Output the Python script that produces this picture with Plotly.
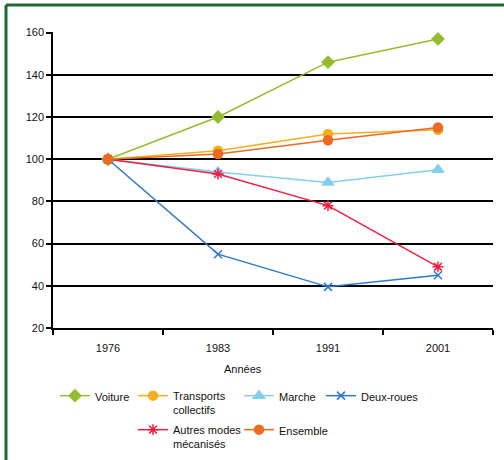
import plotly.graph_objects as go

# Index 100 = 1976
annees = ["1976", "1983", "1991", "2001"]
voiture = [100, 120, 146, 157]
transports_collectifs = [100, 104, 112, 114]
marche = [100, 94, 89, 95]
deux_roues = [100, 55, 39.5, 45]
autres_modes = [100, 93, 78, 49]
ensemble = [100, 102.5, 109, 115]

FONT = "Liberation Sans, Arial, sans-serif"
W, H = 504, 460

# name, values, colour, symbol, size, legend slot (left text edge px, text top px)
series = [
    ("Voiture", voiture, "#93BD2E", "diamond", 9, (97, 382)),
    ("Transports<br>collectifs", transports_collectifs, "#F6AE1E", "circle", 9, (175, 382)),
    ("Marche", marche, "#86CDF0", "triangle-up", 10, (281, 382)),
    ("Deux-roues", deux_roues, "#2E78CC", "x-thin-open", 8, (363, 382)),
    ("Autres modes<br>mécanisés", autres_modes, "#EE1F3F", "asterisk-open", 9, (175, 416)),
    ("Ensemble", ensemble, "#EC6A22", "circle", 9, (281, 416)),
]

fig = go.Figure()
legends = {}
for i, (name, vals, color, symbol, size, (tx, ty)) in enumerate(series):
    leg = "legend" if i == 0 else f"legend{i + 1}"
    fig.add_trace(go.Scatter(
        x=annees, y=vals, name=name, mode="lines+markers",
        line=dict(color=color, width=1.5),
        marker=dict(symbol=symbol, size=size, color=color,
                    line=dict(color=color, width=1.5)),
        legend=leg,
    ))
    legends[leg] = dict(
        x=(tx - 42 - 53) / 440, y=(328 - ty) / 296,
        xanchor="left", yanchor="top",
        valign="top", font=dict(size=11), itemwidth=30,
        bgcolor="rgba(0,0,0,0)", borderwidth=0,
    )

fig.update_layout(
    width=W, height=H,
    margin=dict(l=53, r=11, t=32, b=132, autoexpand=False),
    paper_bgcolor="white", plot_bgcolor="white",
    font=dict(family=FONT, size=11, color="#111"),
    showlegend=True,
    **legends,
)

fig.update_xaxes(
    type="category", range=[-0.5, 3.5], tickson="boundaries",
    ticks="outside", ticklen=5, tickcolor="black", tickwidth=1.5,
    ticklabelstandoff=9,
    showline=True, linecolor="black", linewidth=1.5,
    showgrid=False, tickfont=dict(size=11),
)
fig.update_yaxes(
    range=[20, 160.3], dtick=20, ticks="outside", ticklen=5,
    tickcolor="black", tickwidth=1.5,
    showline=True, linecolor="black", linewidth=1.5,
    showgrid=True, gridcolor="black", gridwidth=1.5,
    zeroline=False, tickfont=dict(size=11),
)

fig.add_annotation(text="Années", xref="paper", yref="paper",
                   x=(243 - 53) / 440, y=-(369 - 328) / 296,
                   xanchor="center", yanchor="middle",
                   showarrow=False, font=dict(size=11))

# green frame (top and left edges)
fig.add_shape(type="line", xref="paper", yref="paper",
              x0=(6 - 53) / 440, x1=(510 - 53) / 440,
              y0=(328 - 5) / 296, y1=(328 - 5) / 296,
              line=dict(color="#1F6A32", width=3))
fig.add_shape(type="line", xref="paper", yref="paper",
              x0=(6 - 53) / 440, x1=(6 - 53) / 440,
              y0=(328 - 5) / 296, y1=(328 - 470) / 296,
              line=dict(color="#1F6A32", width=3))

fig.write_html("out.html")
